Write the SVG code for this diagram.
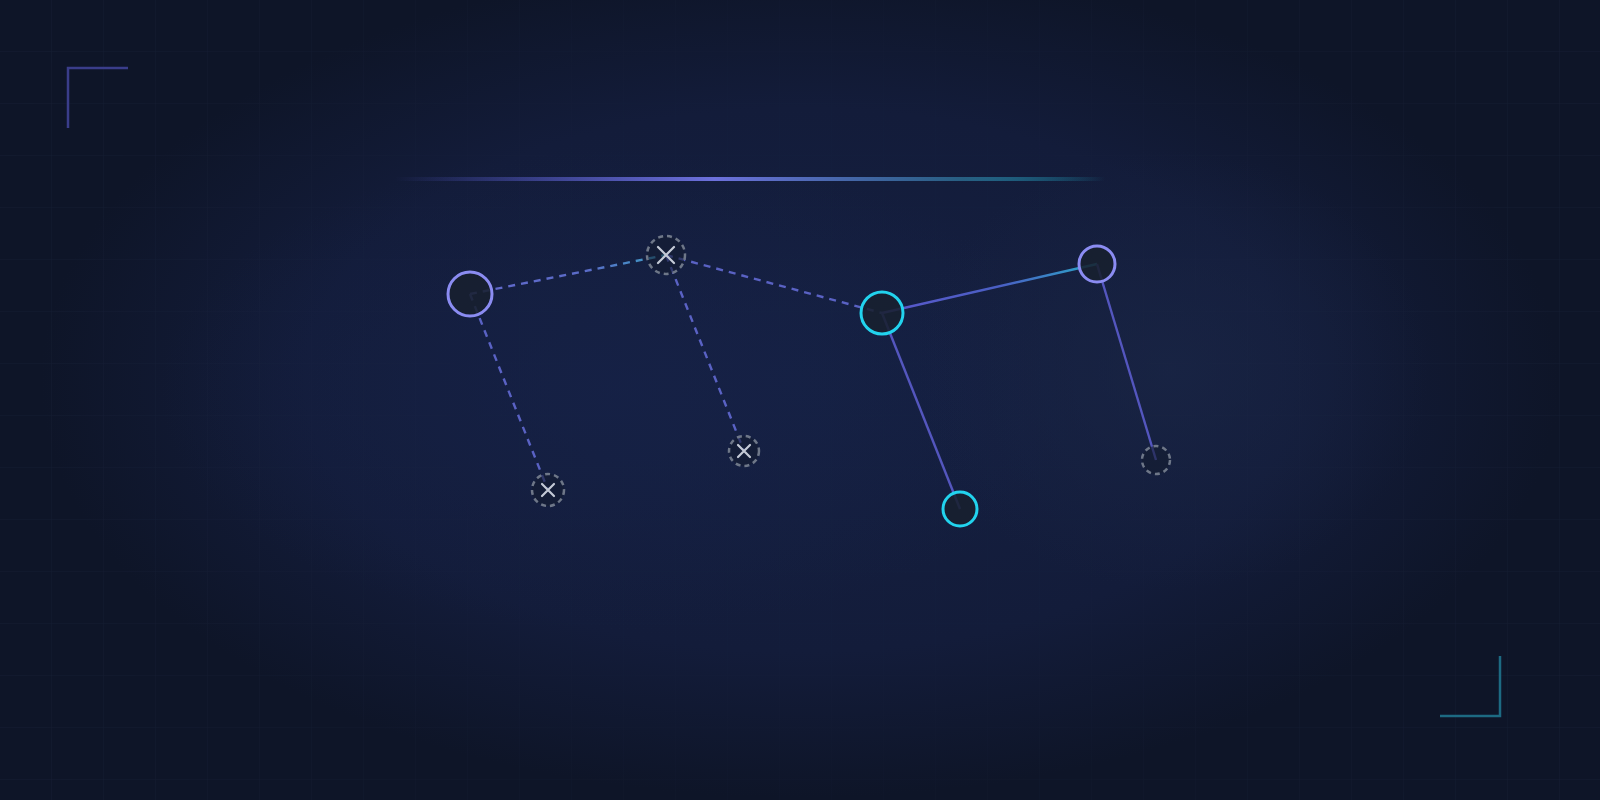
<svg xmlns="http://www.w3.org/2000/svg" width="1600" height="800" viewBox="0 0 1600 800">
  <defs>
    <radialGradient id="bgGlow" cx="800" cy="380" r="760" gradientUnits="userSpaceOnUse" gradientTransform="translate(800 380) scale(1 0.55) translate(-800 -380)">
      <stop offset="0" stop-color="#152042"/>
      <stop offset="0.65" stop-color="#131c3a"/>
      <stop offset="1" stop-color="#0e1528"/>
    </radialGradient>
    <radialGradient id="blobL" cx="0.5" cy="0.5" r="0.5">
      <stop offset="0" stop-color="#162248" stop-opacity="0.7"/>
      <stop offset="1" stop-color="#162248" stop-opacity="0"/>
    </radialGradient>
    <radialGradient id="blobR" cx="0.5" cy="0.5" r="0.5">
      <stop offset="0" stop-color="#1a2646" stop-opacity="0.7"/>
      <stop offset="1" stop-color="#1a2646" stop-opacity="0"/>
    </radialGradient>
    <linearGradient id="topLine" x1="395" y1="0" x2="1105" y2="0" gradientUnits="userSpaceOnUse">
      <stop offset="0" stop-color="#6366f1" stop-opacity="0"/>
      <stop offset="0.45" stop-color="#6d71dc" stop-opacity="1"/>
      <stop offset="0.8" stop-color="#2b6a8e" stop-opacity="0.85"/>
      <stop offset="1" stop-color="#22d3ee" stop-opacity="0"/>
    </linearGradient>
    <linearGradient id="gEF" x1="882" y1="313" x2="1097" y2="264" gradientUnits="userSpaceOnUse">
      <stop offset="0" stop-color="#5a57cc"/>
      <stop offset="0.55" stop-color="#4a5fc4"/>
      <stop offset="1" stop-color="#2aa8c8"/>
    </linearGradient>
    <linearGradient id="gAB" x1="470" y1="294" x2="666" y2="255" gradientUnits="userSpaceOnUse">
      <stop offset="0" stop-color="#6268cc"/>
      <stop offset="0.6" stop-color="#5a6cc8"/>
      <stop offset="1" stop-color="#3aa0c4"/>
    </linearGradient>
    <pattern id="grid" width="52" height="52" patternUnits="userSpaceOnUse">
      <path d="M52 0 V52 M0 52 H52" fill="none" stroke="#27324c" stroke-width="1"/>
    </pattern>
    <radialGradient id="gridFade" cx="800" cy="400" r="900" gradientUnits="userSpaceOnUse">
      <stop offset="0.35" stop-color="#fff" stop-opacity="0.15"/>
      <stop offset="1" stop-color="#fff" stop-opacity="0.6"/>
    </radialGradient>
    <mask id="gridMask">
      <rect width="1600" height="800" fill="url(#gridFade)"/>
    </mask>
  </defs>
  <style>
    .dash { fill: none; stroke-width: 2.4; stroke-dasharray: 7 6; stroke-linecap: butt; }
    .solid { fill: none; stroke-width: 2.4; }
    .node { fill: #18202f; fill-opacity: 0.88; stroke-width: 3; }
    .purple { stroke: #8b8cf2; }
    .cyan { stroke: #22d3ee; }
    .lost { fill: #141c30; fill-opacity: 0.6; stroke: #6e7788; stroke-width: 2.5; stroke-dasharray: 5 4; }
    .x { stroke: #c4cad6; stroke-width: 2.2; stroke-linecap: round; }
  </style>

  <g id="background">
    <rect width="1600" height="800" fill="#0e1528"/>
    <rect width="1600" height="800" fill="url(#bgGlow)"/>
    <ellipse cx="620" cy="390" rx="460" ry="240" fill="url(#blobL)"/>
    <ellipse cx="1170" cy="370" rx="260" ry="220" fill="url(#blobR)"/>
    <rect width="1600" height="800" fill="url(#grid)" mask="url(#gridMask)" opacity="0.6"/>
  </g>

  <g id="decor">
    <path d="M128 68 H68 V128" fill="none" stroke="#3a3d8a" stroke-width="2.5"/>
    <path d="M1500 656 V716 H1440" fill="none" stroke="#1d6a82" stroke-width="2.5"/>
    <line x1="395" y1="179" x2="1105" y2="179" stroke="url(#topLine)" stroke-width="4"/>
  </g>

  <g id="connectors">
    <line class="dash" x1="470" y1="294" x2="666" y2="255" stroke="url(#gAB)"/>
    <line class="dash" x1="470" y1="294" x2="548" y2="490" stroke="#5a62c4"/>
    <line class="dash" x1="666" y1="255" x2="744" y2="451" stroke="#5a62c4"/>
    <line class="dash" x1="666" y1="255" x2="882" y2="313" stroke="#5a62c4"/>
    <line class="solid" x1="882" y1="313" x2="1097" y2="264" stroke="url(#gEF)"/>
    <line class="solid" x1="882" y1="313" x2="960" y2="509" stroke="#5456be"/>
    <line class="solid" x1="1097" y1="264" x2="1156" y2="460" stroke="#5456be"/>
  </g>

  <g id="node-a"><circle class="node purple" cx="470" cy="294" r="22"/></g>
  <g id="node-b">
    <circle class="lost" cx="666" cy="255" r="19"/>
    <path class="x" d="M658 247 L674 263 M674 247 L658 263"/>
  </g>
  <g id="node-c">
    <circle class="lost" cx="548" cy="490" r="16"/>
    <path class="x" d="M542 484 L554 496 M554 484 L542 496"/>
  </g>
  <g id="node-d">
    <circle class="lost" cx="744" cy="451" r="15"/>
    <path class="x" d="M738 445 L750 457 M750 445 L738 457"/>
  </g>
  <g id="node-e"><circle class="node cyan" cx="882" cy="313" r="21"/></g>
  <g id="node-f"><circle class="node purple" cx="1097" cy="264" r="18"/></g>
  <g id="node-g"><circle class="node cyan" cx="960" cy="509" r="17"/></g>
  <g id="node-h"><circle class="lost" cx="1156" cy="460" r="14" fill-opacity="0"/></g>
</svg>
